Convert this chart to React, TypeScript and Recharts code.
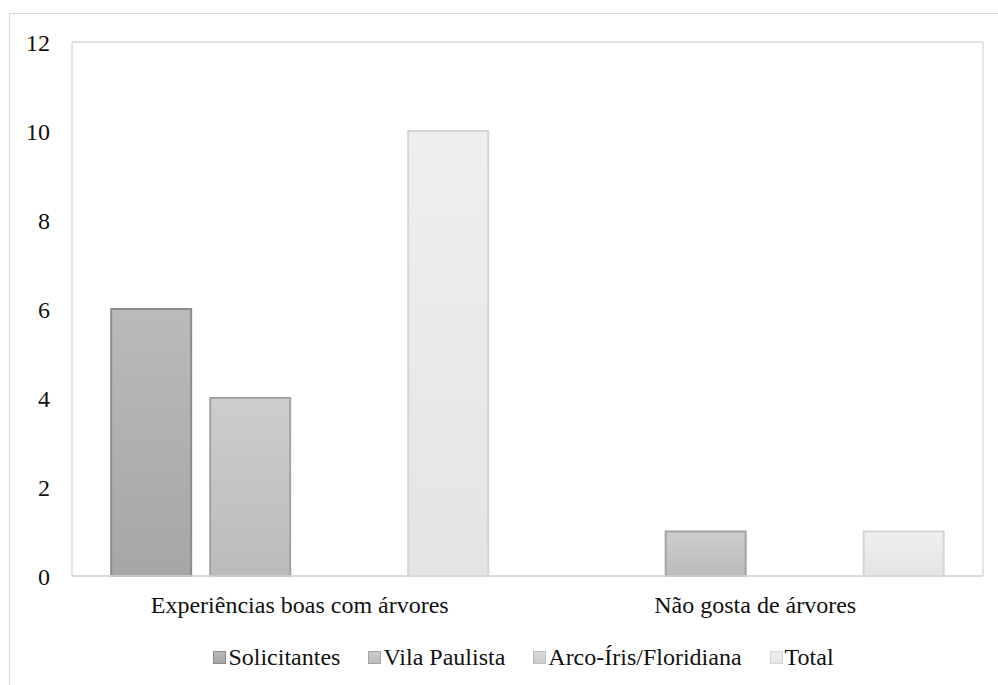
import React from 'react';
import { BarChart, Bar, XAxis, YAxis, CartesianGrid } from 'recharts';

const categories = ['Experiências boas com árvores', 'Não gosta de árvores'];
const seriesNames = ['Solicitantes', 'Vila Paulista', 'Arco-Íris/Floridiana', 'Total'];
const solicitantes = [6, 0];
const vilaPaulista = [4, 1];
const arcoIris = [0, 0];
const total = [10, 1];
const yTicks = [0, 2, 4, 6, 8, 10, 12];

const seriesValues = [solicitantes, vilaPaulista, arcoIris, total];
const keys = ['s0', 's1', 's2', 's3'];

const styles = [
  { top: '#bababa', bottom: '#a6a6a6', stroke: '#8c8c8c' },
  { top: '#cdcdcd', bottom: '#bbbbbb', stroke: '#a3a3a3' },
  { top: '#dadada', bottom: '#cccccc', stroke: '#bcbcbc' },
  { top: '#efefef', bottom: '#e4e4e4', stroke: '#d5d5d5' },
];

const data = categories.map((c, i) => {
  const row: Record<string, string | number> = { name: c };
  keys.forEach((k, j) => {
    row[k] = seriesValues[j][i];
  });
  return row;
});

const FONT = '"Liberation Serif", "Times New Roman", serif';
const FS = 24;

export default function App() {
  return (
    <div style={{ position: 'fixed', left: 0, top: 0, width: 998, height: 685, overflow: 'hidden', background: '#fff' }}>
      <div style={{ position: 'absolute', left: 9, top: 13, width: 1010, height: 720, border: '1px solid #d9d9d9', boxSizing: 'border-box' }} />
      <div style={{ position: 'absolute', left: 0, top: 0 }}>
        <BarChart
          width={998}
          height={685}
          data={data}
          margin={{ top: 42, right: 0, left: 0, bottom: 69 }}
          barCategoryGap="8.6%"
          barGap={19}
        >
          <defs>
            {styles.map((s, i) => (
              <linearGradient key={i} id={`g${i}`} x1="0" y1="0" x2="0" y2="1">
                <stop offset="0%" stopColor={s.top} />
                <stop offset="100%" stopColor={s.bottom} />
              </linearGradient>
            ))}
          </defs>
          <CartesianGrid vertical={false} stroke="#d9d9d9" strokeWidth={1.3} />
          <XAxis
            dataKey="name"
            height={40}
            tickSize={0}
            tickMargin={20}
            axisLine={{ stroke: '#d9d9d9', strokeWidth: 1.3 }}
            tick={{ fill: '#111', fontSize: FS, fontFamily: FONT }}
          />
          <YAxis
            yAxisId="left"
            width={72}
            domain={[0, 12]}
            ticks={yTicks}
            tickSize={0}
            tickMargin={22}
            axisLine={{ stroke: '#d9d9d9', strokeWidth: 1.3 }}
            tick={{ fill: '#111', fontSize: FS, fontFamily: FONT }}
          />
          <YAxis
            yAxisId="right"
            orientation="right"
            width={15}
            domain={[0, 12]}
            tick={false}
            tickLine={false}
            axisLine={{ stroke: '#d9d9d9', strokeWidth: 1.3 }}
          />
          {keys.map((k, i) => (
            <Bar
              key={k}
              yAxisId="left"
              dataKey={k}
              name={seriesNames[i]}
              fill={`url(#g${i})`}
              stroke={styles[i].stroke}
              strokeWidth={2}
              isAnimationActive={false}
            />
          ))}
        </BarChart>
      </div>
      <div
        style={{
          position: 'absolute',
          left: 0,
          top: 643,
          width: 1047,
          display: 'flex',
          justifyContent: 'center',
          fontFamily: FONT,
          fontSize: FS,
          color: '#111',
          lineHeight: '28px',
        }}
      >
        {seriesNames.map((n, i) => (
          <div key={n} style={{ display: 'flex', alignItems: 'center', marginRight: i < seriesNames.length - 1 ? 28 : 0 }}>
            <span
              style={{
                display: 'inline-block',
                width: 11,
                height: 11,
                background: `linear-gradient(${styles[i].top}, ${styles[i].bottom})`,
                border: `1px solid ${styles[i].stroke}`,
                marginRight: 2,
              }}
            />
            <span>{n}</span>
          </div>
        ))}
      </div>
    </div>
  );
}
